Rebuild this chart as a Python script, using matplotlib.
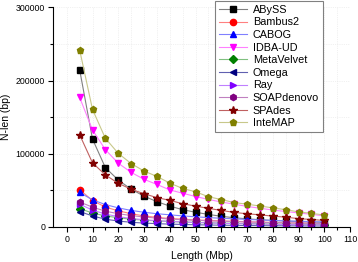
import matplotlib.pyplot as plt
import numpy as np

plt.rcParams['font.family'] = ['Liberation Sans', 'DejaVu Sans']

length = [5, 10, 15, 20, 25, 30, 35, 40, 45, 50, 55, 60, 65, 70, 75, 80, 85, 90, 95, 100]

abyss = [215000, 120000, 81000, 64000, 51500, 42000, 34500, 28400, 23500, 20000,
         17000, 14500, 12500, 11000, 9800, 8800, 8000, 7300, 6700, 6200]
bambus2 = [51000, 36000, 27000, 22000, 18000, 15000, 13000, 11500, 10500, 9500,
           8800, 8200, 7600, 7000, 6500, 6000, 5600, 5200, 4900, 4600]
cabog = [47000, 37000, 30500, 26000, 22500, 20000, 18000, 16500, 15000, 13800,
         12700, 11800, 11000, 10200, 9500, 8900, 8300, 7700, 7200, 6800]
idba_ud = [177000, 132500, 105500, 87000, 74500, 65000, 58000, 50500, 46000, 41500,
           37500, 34000, 31000, 28000, 25500, 23000, 21000, 19000, 17200, 15000]
metavelvet = [25000, 19000, 15000, 12500, 10500, 9200, 8200, 7400, 6700, 6100,
              5600, 5200, 4800, 4500, 4200, 3900, 3700, 3500, 3300, 3100]
omega = [21000, 15000, 10500, 8000, 6300, 5200, 4400, 3800, 3300, 2900,
         2600, 2300, 2100, 1900, 1700, 1600, 1500, 1400, 1300, 1200]
ray = [31000, 23000, 17500, 14000, 11500, 9800, 8500, 7500, 6700, 6000,
       5400, 4900, 4500, 4100, 3800, 3500, 3200, 3000, 2800, 2600]
soapdenovo = [34000, 27000, 21500, 18000, 15500, 13500, 12000, 10800, 9800, 9000,
              8300, 7700, 7200, 6700, 6300, 5900, 5500, 5200, 4900, 4600]
spades = [126000, 87500, 71000, 59600, 51400, 45300, 40000, 36300, 31600, 28400,
          25300, 22500, 19800, 17900, 16500, 14700, 13300, 11300, 10100, 8800]
intemap = [242000, 160500, 121000, 100500, 86500, 76300, 69000, 59800, 52500, 48000,
           41200, 37400, 33200, 31000, 28500, 26000, 23500, 20500, 18500, 16200]

series = [
    ('ABySS', abyss, 's', 'black', '#808080'),
    ('Bambus2', bambus2, 'o', 'red', '#ff8080'),
    ('CABOG', cabog, '^', 'blue', '#8080ff'),
    ('IDBA-UD', idba_ud, 'v', 'magenta', '#ff80ff'),
    ('MetaVelvet', metavelvet, 'D', '#008000', '#80c080'),
    ('Omega', omega, '<', '#000080', '#6060b0'),
    ('Ray', ray, '>', '#8000ff', '#c080ff'),
    ('SOAPdenovo', soapdenovo, 'h', '#800080', '#c080c0'),
    ('SPAdes', spades, '*', '#800000', '#c06060'),
    ('InteMAP', intemap, 'p', '#808000', '#c8c88a'),
]

fig = plt.figure(figsize=(3.58, 2.62), dpi=100)
ax = fig.add_axes([0.149, 0.134, 0.829, 0.838])

for name, vals, mk, mc, lc in series:
    ms = 6 if mk == '*' else 4.5
    ax.plot(length, vals, color=lc, lw=0.8, marker=mk, markersize=ms,
            markerfacecolor=mc, markeredgecolor=mc, label=name)

ax.set_xlim(-5.2, 110)
ax.set_ylim(0, 300000)
ax.set_xticks(np.arange(0, 111, 10))
ax.set_xticks(np.arange(5, 110, 10), minor=True)
ax.set_yticks([0, 100000, 200000, 300000])
ax.set_yticks([50000, 150000, 250000], minor=True)
ax.tick_params(which='both', direction='out', labelsize=6.3, width=0.8, pad=2.5)
ax.tick_params(which='major', length=3.5)
ax.tick_params(which='minor', length=2)
ax.spines['top'].set_visible(False)
ax.spines['right'].set_visible(False)
ax.grid(True, which='both', linestyle=':', color='#e4e4e4', lw=0.5)
ax.set_axisbelow(True)

ax.set_xlabel('Length (Mbp)', fontsize=7.5, labelpad=5)
ax.set_ylabel('N-len (bp)', fontsize=7.5, labelpad=3)

leg = ax.legend(loc='upper right', bbox_to_anchor=(0.902, 0.996),
                bbox_transform=fig.transFigure, fontsize=7.8,
                labelspacing=0.24, handlelength=2.6, handletextpad=0.5,
                borderpad=0.35, borderaxespad=0, fancybox=False, framealpha=1,
                edgecolor='#808080')
leg.get_frame().set_linewidth(0.8)

fig.savefig('out.png', dpi=100)
